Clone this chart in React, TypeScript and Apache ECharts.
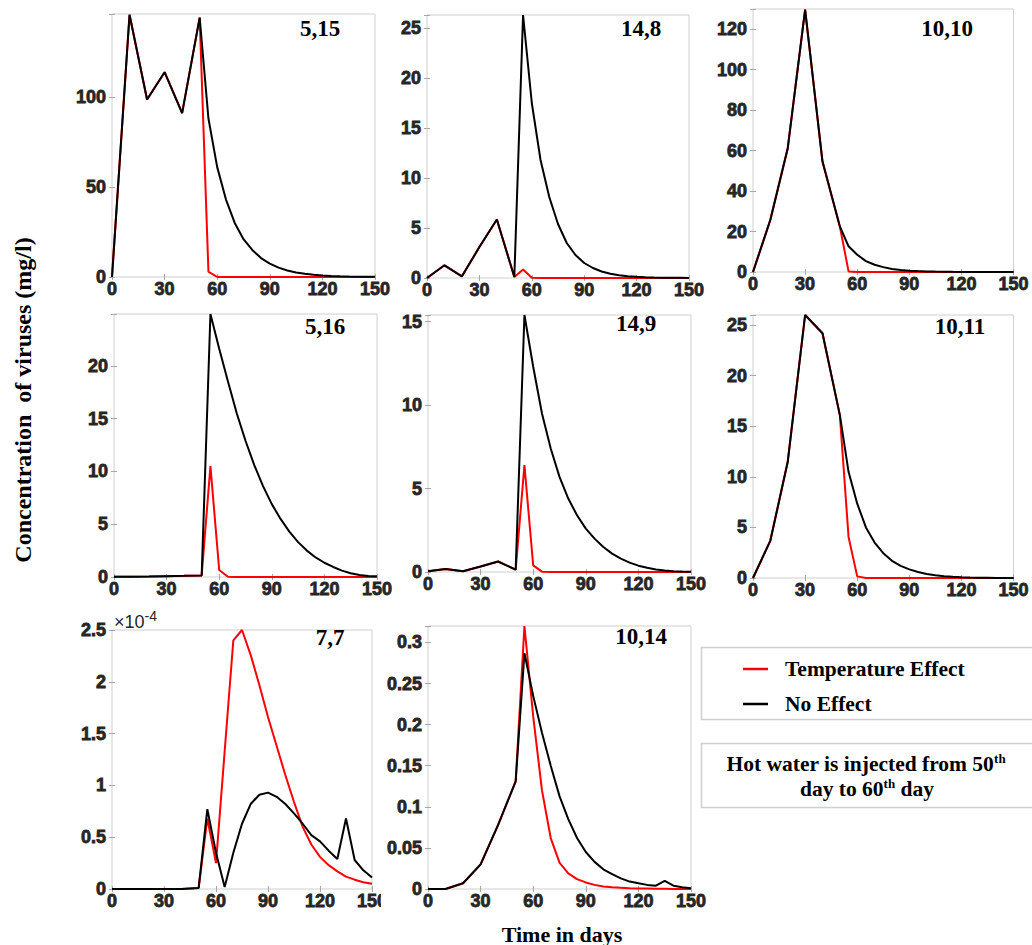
import React, { useEffect, useRef } from "react";
import * as echarts from "echarts";

// ---------- data ----------
const DAYS = [0, 10, 20, 30, 40, 50, 55, 60, 65, 70, 75, 80, 85, 90, 95, 100, 105, 110, 115, 120, 125, 130, 135, 140, 145, 150];
const X_TICK_STEP = 30;
const PANEL_TITLES = ["5,15", "14,8", "10,10", "5,16", "14,9", "10,11", "7,7", "10,14"];
const Y_MAX = [146, 26.3, 130, 24.9, 15.4, 26, 2.5, 0.32];
const Y_STEP = [50, 5, 20, 5, 5, 5, 0.5, 0.05];
const SERIES_NAMES = ["Temperature Effect", "No Effect"];

// 5,15
const TEMP_5_15 = [0, 145.6, 98.5, 113.7, 91, 144, 3, 0, 0, 0, 0, 0, 0, 0, 0, 0, 0, 0, 0, 0, 0, 0, 0, 0, 0, 0];
const NOEF_5_15 = [0, 145.6, 98.5, 113.7, 91, 144, 88, 61, 43, 30, 21, 15, 10.5, 7.4, 5.2, 3.6, 2.5, 1.8, 1.2, 0.85, 0.6, 0.4, 0.28, 0.2, 0.14, 0.1];
// 14,8
const TEMP_14_8 = [0, 1.27, 0.17, 3.1, 5.85, 0.1, 0.85, 0.02, 0, 0, 0, 0, 0, 0, 0, 0, 0, 0, 0, 0, 0, 0, 0, 0, 0, 0];
const NOEF_14_8 = [0, 1.27, 0.17, 3.1, 5.85, 0.1, 26.3, 17.5, 11.8, 8.1, 5.4, 3.5, 2.3, 1.5, 1.0, 0.65, 0.43, 0.28, 0.18, 0.12, 0.08, 0.05, 0.03, 0.02, 0.015, 0.01];
// 10,10
const TEMP_10_10 = [0, 25.8, 61.2, 129.7, 54.6, 22.5, 0.3, 0.02, 0, 0, 0, 0, 0, 0, 0, 0, 0, 0, 0, 0, 0, 0, 0, 0, 0, 0];
const NOEF_10_10 = [0, 25.8, 61.2, 129.7, 54.6, 22.5, 12.7, 8.5, 5.4, 3.6, 2.4, 1.5, 1.0, 0.65, 0.45, 0.3, 0.2, 0.12, 0.08, 0.05, 0.03, 0.02, 0.01, 0.01, 0, 0];
// 5,16
const TEMP_5_16 = [0.02, 0.03, 0.05, 0.08, 0.11, 0.15, 10.5, 0.66, 0.03, 0, 0, 0, 0, 0, 0, 0, 0, 0, 0, 0, 0, 0, 0, 0, 0, 0];
const NOEF_5_16 = [0.02, 0.03, 0.05, 0.08, 0.11, 0.15, 24.9, 21.6, 18.5, 15.5, 12.9, 10.6, 8.6, 6.9, 5.5, 4.3, 3.3, 2.5, 1.85, 1.35, 0.95, 0.6, 0.35, 0.18, 0.1, 0.06];
// 14,9
const TEMP_14_9 = [0.05, 0.18, 0.04, 0.33, 0.63, 0.14, 6.4, 0.4, 0.02, 0, 0, 0, 0, 0, 0, 0, 0, 0, 0, 0, 0, 0, 0, 0, 0, 0];
const NOEF_14_9 = [0.05, 0.18, 0.04, 0.33, 0.63, 0.14, 15.4, 12.3, 9.5, 7.4, 5.7, 4.4, 3.4, 2.6, 2.0, 1.5, 1.1, 0.8, 0.56, 0.38, 0.25, 0.15, 0.09, 0.05, 0.03, 0.02];
// 10,11
const TEMP_10_11 = [0, 3.7, 11.5, 26, 24.2, 16.1, 4.06, 0.16, 0.01, 0, 0, 0, 0, 0, 0, 0, 0, 0, 0, 0, 0, 0, 0, 0, 0, 0];
const NOEF_10_11 = [0, 3.7, 11.5, 26, 24.2, 16.1, 10.5, 7.35, 5.0, 3.5, 2.45, 1.7, 1.2, 0.85, 0.6, 0.4, 0.27, 0.18, 0.12, 0.08, 0.05, 0.03, 0.02, 0.01, 0.005, 0];
// 7,7  (values in units of 1e-4)
const TEMP_7_7 = [0, 0, 0, 0, 0, 0.01, 0.68, 0.25, 1.33, 2.4, 2.5, 2.26, 1.97, 1.66, 1.38, 1.1, 0.84, 0.6, 0.43, 0.31, 0.23, 0.17, 0.12, 0.09, 0.065, 0.05];
const NOEF_7_7 = [0, 0, 0, 0, 0, 0.01, 0.77, 0.35, 0.02, 0.35, 0.63, 0.82, 0.91, 0.93, 0.89, 0.82, 0.73, 0.63, 0.52, 0.46, 0.37, 0.29, 0.68, 0.28, 0.18, 0.11];
// 10,14
const TEMP_10_14 = [0, 0, 0.007, 0.03, 0.078, 0.131, 0.32, 0.21, 0.12, 0.062, 0.032, 0.019, 0.012, 0.008, 0.005, 0.003, 0.002, 0.0015, 0.001, 0.0007, 0.0005, 0.0003, 0.0002, 0.0001, 0.0001, 0];
const NOEF_10_14 = [0, 0, 0.007, 0.03, 0.078, 0.131, 0.287, 0.235, 0.19, 0.15, 0.113, 0.085, 0.062, 0.045, 0.033, 0.024, 0.018, 0.013, 0.009, 0.007, 0.005, 0.004, 0.01, 0.004, 0.002, 0.001];

const TEMP_SERIES = [TEMP_5_15, TEMP_14_8, TEMP_10_10, TEMP_5_16, TEMP_14_9, TEMP_10_11, TEMP_7_7, TEMP_10_14];
const NOEF_SERIES = [NOEF_5_15, NOEF_14_8, NOEF_10_10, NOEF_5_16, NOEF_14_9, NOEF_10_11, NOEF_7_7, NOEF_10_14];

// ---------- layout ----------
const LAYOUT = [
  { left: 112, top: 14, width: 263, height: 263 },
  { left: 427, top: 15, width: 262, height: 263 },
  { left: 753, top: 9, width: 263, height: 263 },
  { left: 114, top: 314, width: 263, height: 263 },
  { left: 428, top: 315, width: 263, height: 257 },
  { left: 753, top: 315, width: 263, height: 263 },
  { left: 112, top: 630, width: 260, height: 259 },
  { left: 428, top: 626, width: 263, height: 263 },
];
const TITLE_POS = [
  [320, 28], [641, 28], [947, 28], [325, 326], [636, 323], [960, 326], [330, 637], [641, 636],
];

const SANS = '"Liberation Sans", Arial, sans-serif';
const SERIF = '"Liberation Serif", "Times New Roman", serif';
const RED = "#ff0000";
const BLACK = "#000000";
const LABEL_COLOR = "#262626";

function fmt(v: number, step: number) {
  const r = v / step;
  if (Math.abs(r - Math.round(r)) > 1e-6) return "";
  return String(+v.toFixed(4));
}

function buildOption() {
  const grid: any[] = [];
  const xAxis: any[] = [];
  const yAxis: any[] = [];
  const series: any[] = [];
  const tick = { show: true, inside: true, length: 3, lineStyle: { color: "#a8a8a8", width: 1 } };
  const labelStyle = {
    fontFamily: SANS, fontWeight: "bold", fontSize: 18, color: LABEL_COLOR,
    textBorderColor: LABEL_COLOR, textBorderWidth: 0.8,
  };

  LAYOUT.forEach((l, i) => {
    grid.push({ ...l, show: true, borderColor: "#cfcfcf", borderWidth: 1, backgroundColor: "#ffffff" });
    xAxis.push({
      gridIndex: i, type: "value", min: 0, max: 150, interval: X_TICK_STEP, position: "bottom",
      axisLine: { show: false }, axisTick: tick, splitLine: { show: false },
      axisLabel: { ...labelStyle, margin: 3, formatter: (v: number) => fmt(v, X_TICK_STEP) },
    });
    xAxis.push({
      gridIndex: i, type: "value", min: 0, max: 150, interval: X_TICK_STEP, position: "top",
      axisLine: { show: false }, axisTick: tick, splitLine: { show: false }, axisLabel: { show: false },
    });
    const step = Y_STEP[i];
    yAxis.push({
      gridIndex: i, type: "value", min: 0, max: Y_MAX[i], interval: step, position: "left",
      axisLine: { show: false }, axisTick: tick, splitLine: { show: false },
      axisLabel: { ...labelStyle, margin: 6, formatter: (v: number) => fmt(v, step) },
    });
    yAxis.push({
      gridIndex: i, type: "value", min: 0, max: Y_MAX[i], interval: step, position: "right",
      axisLine: { show: false }, axisTick: tick, splitLine: { show: false }, axisLabel: { show: false },
    });
    series.push({
      name: SERIES_NAMES[0], type: "line", xAxisIndex: 2 * i, yAxisIndex: 2 * i,
      data: DAYS.map((d, k) => [d, TEMP_SERIES[i][k]]),
      showSymbol: false, symbol: "none", z: 2,
      lineStyle: { color: RED, width: 2 }, itemStyle: { color: RED },
    });
    series.push({
      name: SERIES_NAMES[1], type: "line", xAxisIndex: 2 * i, yAxisIndex: 2 * i,
      data: DAYS.map((d, k) => [d, NOEF_SERIES[i][k]]),
      showSymbol: false, symbol: "none", z: 3,
      lineStyle: { color: BLACK, width: 2 }, itemStyle: { color: BLACK },
    });
  });

  const graphic: any[] = [];
  PANEL_TITLES.forEach((t, i) => {
    graphic.push({
      type: "text", x: TITLE_POS[i][0], y: TITLE_POS[i][1], z: 10,
      style: { text: t, font: `bold 23px ${SERIF}`, fill: "#000", align: "center", verticalAlign: "middle" },
    });
  });
  // ×10^-4 exponent label
  graphic.push({
    type: "text", x: 114, y: 620, z: 10,
    style: {
      text: "{a|×10}{b|-4}", verticalAlign: "middle",
      rich: {
        a: { fontFamily: SANS, fontSize: 18, fill: LABEL_COLOR, lineHeight: 22, verticalAlign: "bottom" },
        b: { fontFamily: SANS, fontSize: 14, fill: LABEL_COLOR, verticalAlign: "top", lineHeight: 15 },
      },
    },
  });
  // clip of last x label in 7,7 panel (next panel's white background)
  graphic.push({ type: "rect", z: 20, shape: { x: 381, y: 891, width: 20, height: 22 }, style: { fill: "#fff" } });
  // axis titles
  graphic.push({
    type: "text", x: 23, y: 400, rotation: Math.PI / 2, z: 10,
    style: { text: "Concentration  of viruses (mg/l)", font: `bold 24px ${SERIF}`, fill: "#000", align: "center", verticalAlign: "middle" },
  });
  graphic.push({
    type: "text", x: 562, y: 934, z: 10,
    style: { text: "Time in days", font: `bold 22px ${SERIF}`, fill: "#000", align: "center", verticalAlign: "middle" },
  });
  // legend box
  graphic.push({ type: "rect", z: 1, shape: { x: 701.5, y: 647.5, width: 340, height: 72 }, style: { fill: "#fff", stroke: "#cfcfcf", lineWidth: 1.5 } });
  // note box
  graphic.push({ type: "rect", z: 1, shape: { x: 701.5, y: 743.5, width: 340, height: 64 }, style: { fill: "#fff", stroke: "#cfcfcf", lineWidth: 1.5 } });
  const supRich = {
    a: { fontFamily: SERIF, fontWeight: "bold", fontSize: 21.5, fill: "#000", lineHeight: 24 },
    s: { fontFamily: SERIF, fontWeight: "bold", fontSize: 13, fill: "#000", verticalAlign: "top", lineHeight: 24 },
  };
  graphic.push({
    type: "text", x: 866, y: 764, z: 10,
    style: { text: "{a|Hot water is injected from 50}{s|th}", align: "center", verticalAlign: "middle", rich: supRich },
  });
  graphic.push({
    type: "text", x: 867, y: 789, z: 10,
    style: { text: "{a|day to 60}{s|th}{a| day}", align: "center", verticalAlign: "middle", rich: supRich },
  });

  return {
    animation: false,
    backgroundColor: "#ffffff",
    grid, xAxis, yAxis, series, graphic,
    legend: {
      data: SERIES_NAMES, orient: "vertical", left: 743, top: 658, z: 10, padding: 0,
      icon: "rect", itemWidth: 25, itemHeight: 2.5, itemGap: 13,
      textStyle: { fontFamily: SERIF, fontWeight: "bold", fontSize: 21.5, color: "#000", lineHeight: 22, padding: [0, 0, 0, 12] },
    },
  };
}

export default function App() {
  const ref = useRef<HTMLDivElement>(null);
  useEffect(() => {
    document.body.style.margin = "0";
    const chart = echarts.init(ref.current as HTMLDivElement, undefined, { renderer: "svg" });
    chart.setOption(buildOption() as any);
    return () => chart.dispose();
  }, []);
  return <div ref={ref} style={{ width: 1032, height: 945 }} />;
}
